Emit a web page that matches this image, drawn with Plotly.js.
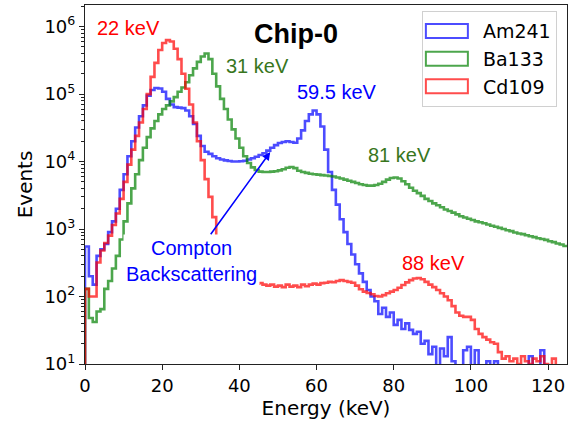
<!DOCTYPE html>
<html><head><meta charset="utf-8">
<script src="https://cdn.plot.ly/plotly-3.0.1.min.js"></script>
<style>html,body{margin:0;padding:0;background:#fff}#chart{width:568px;height:421px}</style>
</head><body><div id="chart"></div>
<script>
// Histogram binning (keV)
const binStartKeV = 0;
const binWidthKeV = 1;

// Counts per 1 keV bin (0 = empty bin)
const am241Counts = [
  550,200,150,400,500,600,900,1300,2000,3800,
  6500,12000,20000,32000,47000,68000,95000,115000,123000,121000,
  108000,85000,70000,64000,63000,62000,57000,47000,36000,24000,
  17000,14000,13000,12000,11200,10700,10400,10200,10000,10000,
  10100,10300,10700,11200,11800,12500,13300,14500,16000,17500,
  18800,19500,20000,19500,19000,22000,29000,40000,50000,57000,
  50000,33000,15000,7000,3800,2300,1400,900,600,420,
  300,220,165,125,100,85,55,68,50,58,
  38,45,33,40,32,28,30,20,22,14,
  18,9,17,13,25,11,5,0,16,18,
  5,16,0,0,11,0,11,0,0,0,
  0,0,0,0,0,13,0,0,16,0,
  0,0,0,0,0
];
const ba133Counts = [
  130,48,42,60,65,130,170,260,400,700,
  1300,2400,4000,6500,10500,16000,23000,31000,40000,50000,
  60000,68000,78000,90000,108000,125000,150000,190000,240000,300000,
  360000,400000,330000,200000,130000,85000,60000,42000,30000,22000,
  16000,12000,9500,8200,7500,7100,7000,7000,7100,7200,
  7400,7700,8100,8300,8000,7300,7000,6800,6600,6500,
  6400,6300,6200,6100,6000,5800,5600,5400,5200,5000,
  4800,4600,4500,4400,4400,4500,4700,5000,5400,5700,
  5800,5600,5100,4600,4100,3700,3400,3100,2800,2600,
  2400,2250,2100,1950,1850,1750,1650,1550,1480,1420,
  1360,1300,1260,1220,1170,1120,1080,1040,1000,960,
  930,890,860,840,810,780,760,730,710,690,
  660,640,610,590,560
];
const cd109Counts = [
  130,100,100,320,480,620,800,1150,1700,2800,
  5000,9000,15000,24000,38000,60000,100000,180000,290000,450000,
  570000,630000,600000,470000,330000,200000,120000,70000,38000,20000,
  10500,5500,3000,1500,700,350,220,180,160,155,
  150,150,150,150,155,158,150,145,150,140,
  145,138,150,140,145,138,150,142,150,155,
  150,158,160,165,163,170,175,170,165,160,
  145,128,118,113,108,102,100,105,112,118,
  125,135,148,162,175,185,188,180,165,150,
  138,125,112,100,88,72,58,52,50,50,
  45,33,28,25,23,21,20,15,12,13,
  11,12,10,13,11,10,12,11,13,10,
  9,12,0,0,0
];

const seriesNames = ['Am241', 'Ba133', 'Cd109'];
const seriesCounts = [am241Counts, ba133Counts, cd109Counts];
const lineColors = ['rgba(0,0,255,0.7)', 'rgba(0,128,0,0.7)', 'rgba(255,0,0,0.7)'];

const xTickVals = [0, 20, 40, 60, 80, 100, 120];
const yTickVals = [10, 100, 1000, 10000, 100000, 1000000];
const yTickText = ['10<sup>1</sup>','10<sup>2</sup>','10<sup>3</sup>','10<sup>4</sup>','10<sup>5</sup>','10<sup>6</sup>'];

const chartTitle = 'Chip-0';
const peakLabels = ['22 keV', '31 keV', '59.5 keV', '81 keV', '88 keV'];
const peakLabelX = [11.4, 44.6, 65.3, 81.6, 90.2];      // keV
const peakLabelY = [5.98, 5.41, 5.03, 4.10, 2.50];       // log10(events)
const peakLabelColors = ['#ff0000', '#38761d', '#0000ff', '#38761d', '#ff0000'];
const comptonText = 'Compton<br>Backscattering';

const FLOOR = 1; // empty bins drop below the axis like matplotlib

function stepTrace(counts, color) {
  const x = [binStartKeV], y = [FLOOR];
  counts.forEach((c, i) => { x.push(binStartKeV + i * binWidthKeV); y.push(Math.max(c, FLOOR)); });
  x.push(binStartKeV + counts.length * binWidthKeV);
  y.push(Math.max(counts[counts.length - 1], FLOOR));
  return { x, y, type: 'scatter', mode: 'lines', line: { shape: 'hv', color, width: 2.6 },
           showlegend: false, hoverinfo: 'skip' };
}

const traces = seriesCounts.map((c, i) => stepTrace(c, lineColors[i]));
// legend entries (outlined patches like matplotlib step histograms)
seriesNames.forEach((n, i) => traces.push({
  type: 'bar', x: [-100], y: [10], name: n, legendgroup: n,
  marker: { color: 'rgba(255,255,255,0)', line: { color: lineColors[i], width: 2 } },
  hoverinfo: 'skip'
}));

const minorVals = [];
for (let d = 1; d < 7; d++) for (let m = 2; m <= 9; m++) minorVals.push(m * Math.pow(10, d));

const annotations = peakLabels.map((t, i) => ({
  text: t, x: peakLabelX[i], y: peakLabelY[i], xref: 'x', yref: 'y', showarrow: false,
  xanchor: 'center', yanchor: 'middle',
  font: { family: 'Liberation Sans, Arial, sans-serif', size: 20, color: peakLabelColors[i] }
}));
annotations.push({
  text: '<b>' + chartTitle + '</b>', x: 54.7, y: 5.89, xref: 'x', yref: 'y', showarrow: false,
  xanchor: 'center', yanchor: 'middle',
  font: { family: 'Liberation Sans, Arial, sans-serif', size: 27, color: '#000' }
});
annotations.push({
  text: comptonText, x: 48.0, y: 4.14, xref: 'x', yref: 'y',
  ax: 27.6, ay: 2.53, axref: 'x', ayref: 'y', showarrow: true,
  arrowcolor: '#0000ff', arrowwidth: 1.6, arrowhead: 2, arrowsize: 1, standoff: 0,
  bgcolor: '#ffffff', borderpad: 2, align: 'center',
  font: { family: 'Liberation Sans, Arial, sans-serif', size: 20, color: '#0000ff' }
});

const axisCommon = {
  showline: true, mirror: true, linecolor: '#222', linewidth: 1.2,
  ticks: 'outside', ticklen: 5, tickcolor: '#222', tickwidth: 1.2,
  showgrid: false, zeroline: false,
  tickfont: { family: 'DejaVu Sans', size: 18, color: '#000' }
};

const layout = {
  width: 568, height: 421,
  margin: { l: 85, r: 1, t: 5, b: 57 },
  paper_bgcolor: '#fff', plot_bgcolor: '#fff',
  font: { family: 'DejaVu Sans', color: '#000' },
  xaxis: Object.assign({}, axisCommon, {
    range: [0, 124.9], tickmode: 'array', tickvals: xTickVals,
    title: { text: 'Energy (keV)', font: { family: 'DejaVu Sans', size: 20, color: '#000' }, standoff: 5 }
  }),
  yaxis: Object.assign({}, axisCommon, {
    type: 'log', range: [1, 6.32], tickmode: 'array', tickvals: yTickVals, ticktext: yTickText,
    minor: { tickmode: 'array', tickvals: minorVals, ticks: 'outside', ticklen: 3, tickcolor: '#222', tickwidth: 1 },
    title: { text: 'Events', font: { family: 'DejaVu Sans', size: 20, color: '#000' }, standoff: 6 }
  }),
  legend: {
    x: 0.979, xanchor: 'right', y: 0.983, yanchor: 'top',
    bgcolor: '#fff', bordercolor: '#d0d0d0', borderwidth: 1,
    font: { family: 'DejaVu Sans', size: 19, color: '#000' },
    itemwidth: 50, tracegroupgap: 7.5, traceorder: 'normal'
  },
  barmode: 'overlay',
  annotations,
  showlegend: true
};

Plotly.newPlot('chart', traces, layout, { displayModeBar: false }).then(gd => {
  // widen the legend patches to matplotlib's rectangular handles
  gd.querySelectorAll('.legend .legendpoints path').forEach(p => p.setAttribute('d', 'M15,7H-27V-7H15Z'));
});
</script>
</body></html>
